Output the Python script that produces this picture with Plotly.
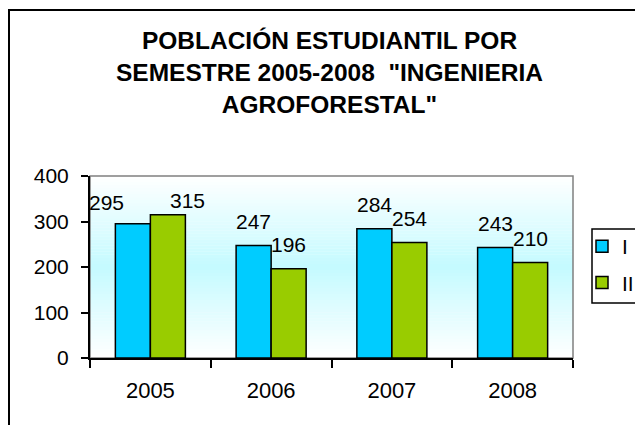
import plotly.graph_objects as go

# ---- data ----
years = ["2005", "2006", "2007", "2008"]
sem_I = [295, 247, 284, 243]
sem_II = [315, 196, 254, 210]
series_names = ["I", "II"]
title_lines = ["POBLACIÓN ESTUDIANTIL POR", "SEMESTRE 2005-2008 &nbsp;\"INGENIERIA", "AGROFORESTAL\""]
y_ticks = [0, 100, 200, 300, 400]

# ---- style ----
FONT = "Liberation Sans, Arial, sans-serif"
COL_I = "#00CCFF"
COL_II = "#99CC00"
W, H = 635, 425
ML, MR, MT, MB = 90, 62, 176, 67
PW = W - ML - MR
PH = H - MT - MB


def px_x(px):
    return (px - ML) / PW


def px_y(py):
    return (MT + PH - py) / PH


fig = go.Figure()
fig.add_trace(go.Bar(x=years, y=sem_I, name=series_names[0], legendgroup="a",
                     marker=dict(color=COL_I, line=dict(color="black", width=1.5))))
fig.add_trace(go.Bar(x=years, y=sem_II, name=series_names[1], legendgroup="b",
                     marker=dict(color=COL_II, line=dict(color="black", width=1.5))))

# gradient plot background (white -> light cyan -> white)
shapes = []
N = 60
top_c = (255, 255, 255)
mid_c = (196, 250, 255)
for i in range(N):
    f = (i + 0.5) / N
    t = 1 - abs(f - 0.5) * 2
    c = tuple(int(round(top_c[k] + (mid_c[k] - top_c[k]) * t)) for k in range(3))
    shapes.append(dict(type="rect", xref="paper", yref="paper", x0=0, x1=1,
                       y0=i / N, y1=(i + 1) / N + 0.002, line=dict(width=0),
                       fillcolor="rgb(%d,%d,%d)" % c, layer="below"))
# plot-area border (grey)
shapes.append(dict(type="rect", xref="paper", yref="paper", x0=0, x1=1, y0=0, y1=1,
                   line=dict(color="#808080", width=1.5), layer="below"))
# outer chart border (black), extends beyond image right/bottom
shapes.append(dict(type="rect", xref="paper", yref="paper",
                   x0=px_x(9), x1=px_x(W + 20), y0=px_y(H + 20), y1=px_y(10),
                   line=dict(color="black", width=2), layer="below"))
# legend box
shapes.append(dict(type="rect", xref="paper", yref="paper",
                   x0=px_x(592), x1=px_x(W + 10), y0=px_y(303), y1=px_y(229),
                   line=dict(color="black", width=1.5), fillcolor="white", layer="below"))

# data labels
label_cfg = {
    # (series index, category index): (xshift extra, yshift)
    (0, 0): (-26, 21), (1, 0): (20, 14),
}
annotations = []
for si, vals in enumerate([sem_I, sem_II]):
    base = -17.5 if si == 0 else 17.5
    for ci, v in enumerate(vals):
        dx, dy = label_cfg.get((si, ci), (0, 24))
        annotations.append(dict(x=ci, y=v, xref="x", yref="y", text=str(v),
                                showarrow=False, xshift=base + dx, yshift=dy,
                                yanchor="middle",
                                font=dict(family=FONT, size=21, color="black")))

fig.update_layout(
    width=W, height=H,
    margin=dict(l=ML, r=MR, t=MT, b=MB, autoexpand=False),
    paper_bgcolor="white", plot_bgcolor="rgba(0,0,0,0)",
    barmode="group", bargap=0.42, bargroupgap=0,
    title=dict(text="<br>".join(title_lines), x=(ML + PW / 2 - 2) / W, xanchor="center",
               y=1 - 49 / H, yanchor="top", yref="container",
               font=dict(family=FONT, size=24.5, color="black", weight="bold")),
    font=dict(family=FONT, size=21, color="black"),
    xaxis=dict(type="category", range=[-0.5, len(years) - 0.5], showline=True,
               linecolor="black", linewidth=2,
               ticks="outside", tickson="boundaries", ticklen=8, tickwidth=2, tickcolor="black",
               ticklabelstandoff=12,
               showgrid=False, tickfont=dict(size=22)),
    yaxis=dict(range=[0, 400], tickvals=y_ticks, showline=True, linecolor="black", linewidth=2,
               ticks="outside", ticklen=7, tickwidth=2, tickcolor="black",
               ticklabelstandoff=8,
               showgrid=False, zeroline=False, tickfont=dict(size=21)),
    legend=dict(x=px_x(582), xanchor="left", y=px_y(226), yanchor="top",
                borderwidth=0, bgcolor="rgba(0,0,0,0)",
                traceorder="grouped", tracegroupgap=6,
                font=dict(family=FONT, size=21, color="black")),
    shapes=shapes,
    annotations=annotations,
)

fig.write_html("out.html", config={"displayModeBar": False},
               post_script="document.body.style.margin='0';document.body.style.overflow='hidden';")
